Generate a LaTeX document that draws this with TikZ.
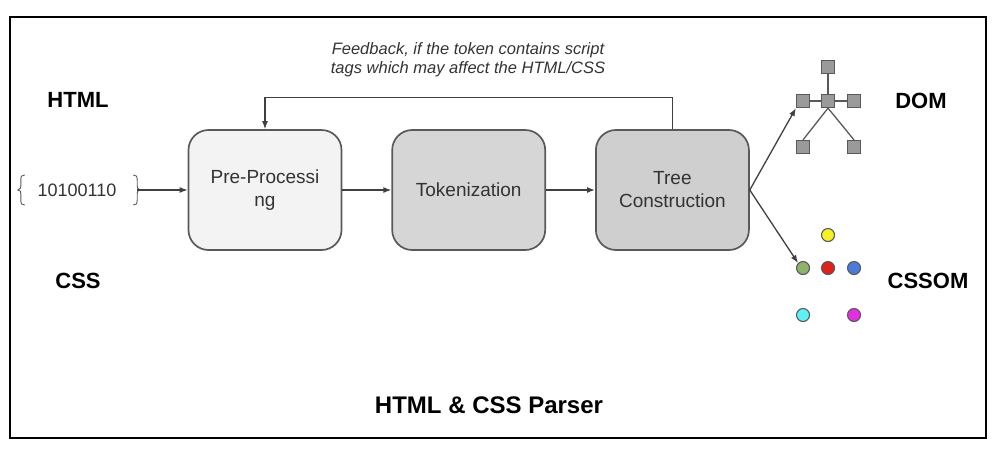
\documentclass[tikz,border=0pt]{standalone}
\usepackage{fontspec}
\setmainfont{Liberation Sans}
\usetikzlibrary{positioning,arrows.meta}
\definecolor{boxline}{HTML}{595959}
\definecolor{linegray}{HTML}{404040}
\definecolor{txtgray}{HTML}{333333}
\definecolor{prefill}{HTML}{F3F3F3}
\definecolor{tokfill}{HTML}{D6D6D6}
\definecolor{treefill}{HTML}{CFCFCF}
\definecolor{sqgray}{HTML}{9A9A9A}

\begin{document}
\begin{tikzpicture}[x=1pt, y=-1pt,
  stage/.style={draw=boxline, line width=1.7pt, rounded corners=20pt, align=center, minimum width=153pt, minimum height=120pt, text=txtgray, font=\fontsize{19}{23}\selectfont},
  arrow/.style={-{Latex[length=8pt,width=6pt]}, line width=1.3pt, draw=linegray},
  sidelabel/.style={font=\bfseries\fontsize{22}{26}\selectfont},
  domsq/.style={draw=boxline, fill=sqgray, line width=1.2pt, minimum size=13pt, inner sep=0pt},
  treeedge/.style={draw=boxline, line width=1.3pt},
  cssdot/.style={circle, draw=boxline, line width=1.1pt, minimum size=13pt, inner sep=0pt}
]
\useasboundingbox (0,0) rectangle (1006,451);
\draw[line width=1.7pt] (10,17) rectangle (986,438);

% parser stages
\node[stage, fill=prefill] (pre) at (265,190) {Pre-Processi\\ng};
\node[stage, fill=tokfill, right=49pt of pre] (tok) {Tokenization};
\node[stage, fill=treefill, right=49pt of tok] (tree) {Tree\\Construction};

% input bytes
\node[minimum width=120pt, text=txtgray, font=\fontsize{18}{22}\selectfont] (bits) at (77,190) {10100110};
\draw[boxline, line width=0.9pt] ([shift={(8,-15)}]bits.west) .. controls ++(-3,0) and ++(0,-4) .. ++(-4,5) -- ++(0,6)
  .. controls ++(0,2) .. ++(-3,4) .. controls ++(3,1) .. ++(3,4) -- ++(0,6) .. controls ++(0,4) and ++(-3,0) .. ++(4,5);
\draw[boxline, line width=0.9pt] ([shift={(-4,-15)}]bits.east) .. controls ++(3,0) and ++(0,-4) .. ++(4,5) -- ++(0,6)
  .. controls ++(0,2) .. ++(3,4) .. controls ++(-3,1) .. ++(-3,4) -- ++(0,6) .. controls ++(0,4) and ++(3,0) .. ++(-4,5);

\node[sidelabel] (html) at (78,100) {HTML};
\node[sidelabel] (css) at (78,281) {CSS};
\node[sidelabel] (dom) at (921,101) {DOM};
\node[sidelabel] (cssom) at (928,281) {CSSOM};
\node[font=\bfseries\fontsize{24}{28}\selectfont] (title) at (489,405) {HTML \& CSS Parser};
\node[align=center, text=txtgray, font=\itshape\fontsize{16.5}{19}\selectfont] (fbtext) at (468,60) {Feedback, if the token contains script\\tags which may affect the HTML/CSS};

% DOM tree
\node[domsq] (droot) at (828,67) {};
\node[domsq] (dmid) at (828,101) {};
\node[domsq] (dleft) at (803,101) {};
\node[domsq] (dright) at (854,101) {};
\node[domsq] (dbl) at (803,147) {};
\node[domsq] (dbr) at (854,147) {};
\draw[treeedge] (droot) -- (dmid);
\draw[treeedge] (dleft) -- (dmid) -- (dright);
\draw[treeedge] (dmid.south) -- (dbl.north);
\draw[treeedge] (dmid.south) -- (dbr.north);

% CSSOM dots
\node[cssdot, fill={rgb,255:red,245;green,240;blue,40}] (cyellow) at (828,235) {};
\node[cssdot, fill={rgb,255:red,143;green,179;blue,106}] (cgreen) at (803,268) {};
\node[cssdot, fill={rgb,255:red,224;green,32;blue,27}] (cred) at (828,268) {};
\node[cssdot, fill={rgb,255:red,74;green,123;blue,216}] (cblue) at (854,268) {};
\node[cssdot, fill={rgb,255:red,95;green,240;blue,245}] (ccyan) at (803,315) {};
\node[cssdot, fill={rgb,255:red,224;green,48;blue,224}] (cmagenta) at (854,315) {};

% connectors
\draw[arrow] (bits.east) -- (pre.west);
\draw[arrow] (pre) -- (tok);
\draw[arrow] (tok) -- (tree);
\draw[arrow] (tree.north) -- ++(0,-32) -| (pre.north);
\draw[arrow] (tree.east) -- (dleft.south west);
\draw[arrow] (tree.east) -- (cgreen.north west);
\end{tikzpicture}
\end{document}
